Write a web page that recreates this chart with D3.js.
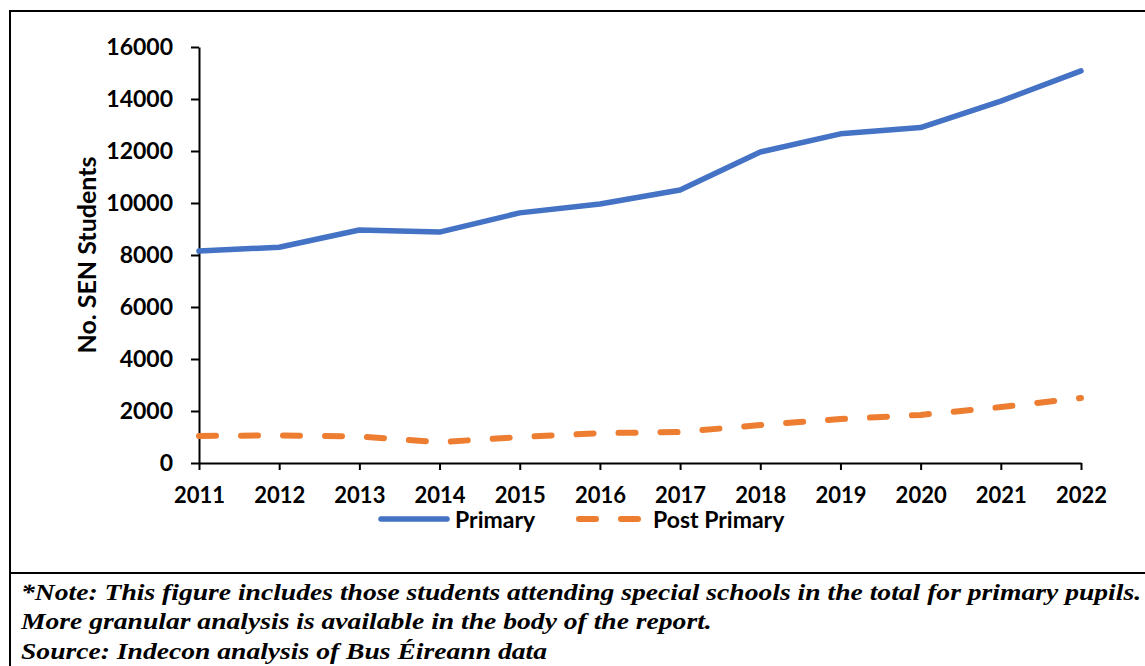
<!DOCTYPE html>
<html>
<head>
<meta charset="utf-8">
<script src="https://cdn.jsdelivr.net/npm/d3@7"></script>
<style>
  html, body { margin: 0; padding: 0; background: #fff; }
  svg { display: block; }
  .note { font-family: "Liberation Serif", "Times New Roman", Times, serif; font-weight: bold; font-style: italic; }
</style>
</head>
<body>
<script>
// Students with special educational needs using school transport, by year
const years = [2011, 2012, 2013, 2014, 2015, 2016, 2017, 2018, 2019, 2020, 2021, 2022];
const primary = [8150, 8300, 8960, 8880, 9620, 9960, 10500, 11960, 12660, 12900, 13920, 15080];
const postPrimary = [1040, 1060, 1020, 800, 1000, 1150, 1190, 1460, 1690, 1850, 2150, 2500];
const yTicks = [0, 2000, 4000, 6000, 8000, 10000, 12000, 14000, 16000];
const seriesNames = ["Primary", "Post Primary"];
const yTitle = "No. SEN Students";
const noteLines = [
  "*Note: This figure includes those students attending special schools in the total for primary pupils.",
  "More granular analysis is available in the body of the report.",
  "Source: Indecon analysis of Bus Éireann data"
];

const W = 1145, H = 666;
const blue = "#4472C4", orange = "#ED7D31";
const tickFont = "Lato, 'Open Sans', sans-serif";

const svg = d3.select("body").append("svg")
  .attr("width", W).attr("height", H);

// Frame around the figure and rule above the notes
svg.append("path")
  .attr("d", "M1147,11H10V667")
  .attr("fill", "none").attr("stroke", "#000").attr("stroke-width", 2);
svg.append("line")
  .attr("x1", 10).attr("x2", 1147).attr("y1", 573).attr("y2", 573)
  .attr("stroke", "#000").attr("stroke-width", 2);

const x = d3.scaleLinear().domain([years[0], years[years.length - 1]]).range([199, 1081]);
const y = d3.scaleLinear().domain([0, 16000]).range([463, 47]);

// Y axis
const yAxis = svg.append("g")
  .attr("transform", "translate(199,0)")
  .call(d3.axisLeft(y).tickValues(yTicks).tickFormat(d3.format("d"))
    .tickSize(8).tickSizeOuter(0).tickPadding(18));
yAxis.select(".domain").attr("stroke", "#000").attr("stroke-width", 2);
yAxis.selectAll(".tick line").attr("stroke", "#000").attr("stroke-width", 2);
yAxis.selectAll(".tick text")
  .attr("font-family", tickFont).attr("font-weight", 700)
  .attr("font-size", 23).attr("fill", "#000");

// X axis
const xAxis = svg.append("g")
  .attr("transform", "translate(0,463)")
  .call(d3.axisBottom(x).tickValues(years).tickFormat(d3.format("d"))
    .tickSize(7).tickSizeOuter(0).tickPadding(17));
xAxis.select(".domain").attr("stroke", "#000").attr("stroke-width", 2);
xAxis.selectAll(".tick line").attr("stroke", "#000").attr("stroke-width", 2);
xAxis.selectAll(".tick text")
  .attr("font-family", tickFont).attr("font-weight", 700)
  .attr("font-size", 22).attr("fill", "#000");

// Y axis title
svg.append("text")
  .attr("transform", `translate(96,${(47 + 463) / 2}) rotate(-90)`)
  .attr("text-anchor", "middle")
  .attr("font-family", tickFont).attr("font-weight", 700)
  .attr("font-size", 25).attr("fill", "#000")
  .text(yTitle);

// Series lines
const line = d3.line().x((d, i) => x(years[i])).y(d => y(d));

svg.append("path")
  .datum(primary)
  .attr("d", line)
  .attr("fill", "none").attr("stroke", blue)
  .attr("stroke-width", 5.5).attr("stroke-linecap", "round").attr("stroke-linejoin", "round");

svg.append("path")
  .datum(postPrimary)
  .attr("d", line)
  .attr("fill", "none").attr("stroke", orange)
  .attr("stroke-width", 6).attr("stroke-linecap", "round").attr("stroke-linejoin", "round")
  .attr("stroke-dasharray", "17,25");

// Legend
const legend = svg.append("g").attr("font-family", tickFont).attr("font-weight", 700)
  .attr("font-size", 23).attr("fill", "#000");
legend.append("line")
  .attr("x1", 381).attr("x2", 447).attr("y1", 519).attr("y2", 519)
  .attr("stroke", blue).attr("stroke-width", 5.5).attr("stroke-linecap", "round");
legend.append("text").attr("x", 455).attr("y", 528).text(seriesNames[0]);
legend.append("line")
  .attr("x1", 579).attr("x2", 638).attr("y1", 519).attr("y2", 519)
  .attr("stroke", orange).attr("stroke-width", 6).attr("stroke-linecap", "round")
  .attr("stroke-dasharray", "17,25");
legend.append("text").attr("x", 653).attr("y", 528).text(seriesNames[1]);

// Notes below the chart, set in a widened bold italic serif
const notes = svg.append("g").attr("class", "note")
  .attr("transform", "translate(21,0) scale(1.15,1)")
  .attr("font-size", 24).attr("fill", "#000");
notes.selectAll("text").data(noteLines).join("text")
  .attr("x", 0)
  .attr("y", (d, i) => 600 + i * 29.5)
  .text(d => d);
</script>
</body>
</html>
